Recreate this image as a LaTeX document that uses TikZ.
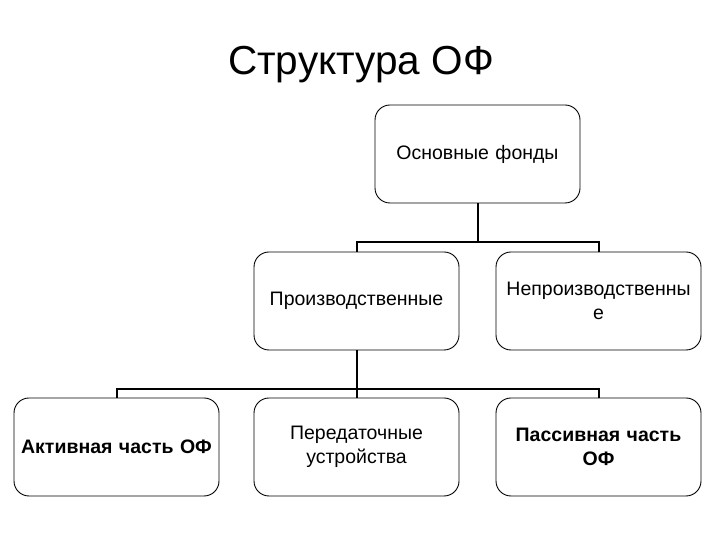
\documentclass[tikz,border=0pt]{standalone}
\usepackage{fontspec}
\setmainfont{Liberation Sans}
\usetikzlibrary{positioning, calc}

\begin{document}
\begin{tikzpicture}[x=1pt, y=1pt, font=\fontsize{19.5}{24.5}\selectfont]
    \tikzset{
        box/.style={draw, rounded corners=15pt, minimum width=205pt, minimum height=98pt,
            text width=200pt, align=center, line width=0.9pt, inner sep=0pt},
        conn/.style={draw, line width=2pt},
    }
    \useasboundingbox (0,0) rectangle (720,540);

    \node[font=\fontsize{40.5}{44}\selectfont, anchor=base] (title) at (361,465) {Структура ОФ};

    \node[box] (osn) at (477.5,386) {Основные фонды};
    \node[box] (proizv) at (356.5,239) {Производственные};
    \node[box] (neproizv) at (598.5,239) {Непроизводственны\\е};
    \node[box, font=\fontsize{19.5}{24.5}\selectfont\bfseries] (aktiv) at (116.5,93) {Активная часть ОФ};
    \node[box] (pered) at (356.5,93) {Передаточные\\устройства};
    \node[box, font=\fontsize{19.5}{24.5}\selectfont\bfseries] (passiv) at (598.5,93) {Пассивная часть\\ОФ};

    \draw[conn] (osn.south) -- ++(0,-39) -| (proizv.north);
    \draw[conn] (osn.south) -- ++(0,-39) -| (neproizv.north);
    \draw[conn] (proizv.south) -- ++(0,-39) -| (aktiv.north);
    \draw[conn] (proizv.south) -- (pered.north);
    \draw[conn] (proizv.south) -- ++(0,-39) -| (passiv.north);
\end{tikzpicture}
\end{document}
